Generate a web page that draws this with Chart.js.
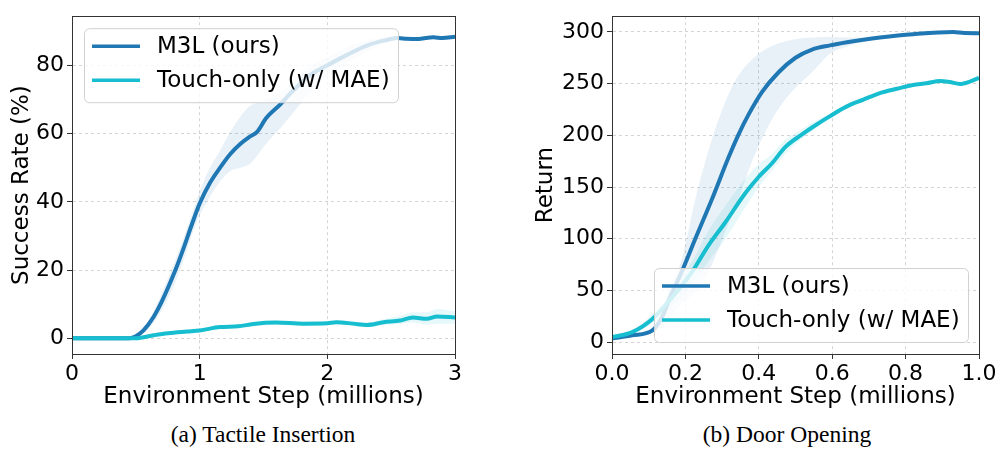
<!DOCTYPE html>
<html lang="en">
<head>
  <meta charset="UTF-8">
  <title>M3L vs Touch-only learning curves</title>
  <script src="https://cdn.jsdelivr.net/npm/chart.js"></script>
  <style>
    body {
      margin: 0;
      width: 1001px;
      height: 450px;
      background: #fff;
      position: relative;
      overflow: hidden;
    }
    canvas {
      position: absolute;
      top: 0;
    }
    #leftChart { left: 0; }
    #rightChart { left: 500px; }
    .caption {
      position: absolute;
      top: 421px;
      width: 300px;
      text-align: center;
      font-family: "Liberation Serif", serif;
      font-size: 23.5px;
      color: #000;
    }
  </style>
</head>
<body>

  <canvas id="leftChart" width="500" height="420"></canvas>
  <canvas id="rightChart" width="501" height="420"></canvas>
  <div class="caption" style="left:113px">(a) Tactile Insertion</div>
  <div class="caption" style="left:637px">(b) Door Opening</div>

  <script>
    const seriesNames = ['M3L (ours)', 'Touch-only (w/ MAE)'];

    // (a) Tactile Insertion, x in millions of steps, y in %
    const tiM3LSteps = [0, 0.2, 0.4, 0.45, 0.5, 0.56, 0.64, 0.7, 0.81, 0.87, 0.94, 1.0, 1.08, 1.16, 1.24, 1.32, 1.39, 1.45, 1.52, 1.63, 1.73, 1.86, 2.0, 2.15, 2.31, 2.45, 2.55, 2.62, 2.7, 2.77, 2.83, 2.9, 3.0];
    const tiM3L     = [0, 0, 0, 0, 0.6, 2.3, 6.3, 10.5, 20, 26, 33.5, 39.5, 45.5, 50, 54, 57, 59, 60.5, 64.5, 68.5, 72.5, 77, 80, 83, 85.8, 87.3, 88, 87.8, 87.7, 88, 88.2, 88, 88.4];
    const tiM3LLow  = [0, 0, 0, 0, 0.2, 1.5, 4.5, 8, 16.5, 22.5, 30.5, 36, 41.5, 46, 49, 50, 51, 53.5, 57, 61.5, 66, 72, 76.5, 80.5, 84, 86.5, 87.5, 87.5, 87.3, 87.6, 87.8, 87.6, 88];
    const tiM3LHigh = [0, 0, 0, 0, 1, 3.2, 8, 13, 23, 29, 36.5, 43, 50, 55, 60.5, 65, 68, 69, 70, 72, 75.5, 79.5, 82.5, 85.2, 87.3, 88.2, 88.5, 88.2, 88.1, 88.4, 88.6, 88.4, 88.8];

    const tiTouchSteps = [0, 0.3, 0.5, 0.64, 0.75, 0.9, 1.0, 1.16, 1.3, 1.42, 1.6, 1.81, 2.0, 2.07, 2.2, 2.31, 2.44, 2.57, 2.67, 2.78, 2.86, 3.0];
    const tiTouch     = [0, 0, 0, 0.9, 1.5, 2.0, 2.3, 3.3, 3.5, 4.2, 4.6, 4.3, 4.4, 4.7, 4.3, 3.9, 4.7, 5.2, 6.1, 5.7, 6.4, 6.1];
    const tiTouchLow  = [0, 0, 0, 0.6, 1.1, 1.5, 1.8, 2.8, 3.0, 3.6, 4.0, 3.7, 3.9, 4.1, 3.7, 3.2, 3.9, 4.2, 4.6, 4.0, 4.3, 4.3];
    const tiTouchHigh = [0, 0, 0, 1.2, 1.9, 2.5, 2.8, 3.8, 4.0, 4.8, 5.2, 4.9, 4.9, 5.3, 4.9, 4.6, 5.6, 6.6, 7.6, 7.6, 8.6, 7.9];

    const tiXTicks = [0, 1, 2, 3];
    const tiYTicks = [0, 20, 40, 60, 80];

    // (b) Door Opening, x in millions of steps, y = return
    const doM3LSteps = [0, 0.055, 0.11, 0.136, 0.16, 0.19, 0.227, 0.272, 0.318, 0.345, 0.372, 0.409, 0.454, 0.5, 0.545, 0.594, 0.64, 0.685, 0.73, 0.82, 0.93, 0.96, 1.0];
    const doM3L     = [3.5, 6.6, 11.4, 24, 45, 68, 100, 138, 179, 201, 220, 242, 261, 275, 283, 287, 290, 292.5, 294.6, 297.8, 300, 299, 298.8];
    const doM3LLow  = [2.5, 5, 9, 14, 24, 38, 48, 75, 115, 138, 166, 197, 226, 246, 261, 279, 286, 291, 293.7, 297, 299, 298, 298];
    const doM3LHigh = [4.5, 8, 14, 32, 55, 80, 138, 196, 240, 258, 270, 281, 289, 293, 294.6, 295, 294.5, 294.5, 295.5, 298.5, 301, 300, 299.5];

    const doTouchSteps = [0, 0.055, 0.11, 0.163, 0.218, 0.263, 0.309, 0.363, 0.4, 0.436, 0.472, 0.518, 0.545, 0.594, 0.64, 0.685, 0.73, 0.776, 0.82, 0.857, 0.894, 0.92, 0.948, 0.975, 1.0];
    const doTouch     = [5, 9.8, 22.5, 43, 68, 93.7, 116, 144, 160, 173, 188.6, 201, 207.6, 218.6, 228, 234.5, 240.9, 245, 248.7, 250.3, 252.5, 251.5, 249.7, 252, 255.7];
    const doTouchLow  = [4, 8, 18, 35, 56, 78, 100, 130, 150, 166, 182, 197, 204, 216, 226, 233, 239.5, 243.5, 247.5, 249, 251, 250, 248.5, 250.5, 254];
    const doTouchHigh = [6, 11.5, 27, 50, 78, 108, 132, 158, 172, 182, 196, 206, 212, 221, 230, 236, 242.5, 246.5, 250, 251.5, 254, 253, 251, 253.5, 257];

    const doXTicks = [0, 0.2, 0.4, 0.6, 0.8, 1.0];
    const doYTicks = [0, 50, 100, 150, 200, 250, 300];

    const BLUE = '#1f77b4';
    const CYAN = '#17becf';
    const FONT = '"DejaVu Sans", sans-serif';

    Chart.defaults.font.family = FONT;
    Chart.defaults.font.size = 23;
    Chart.defaults.color = '#000';

    function pts(xs, ys) {
      return xs.map((x, i) => ({ x: x, y: ys[i] }));
    }

    function line(label, color, xs, ys, order) {
      return {
        label: label, data: pts(xs, ys), borderColor: color, borderWidth: 4,
        pointRadius: 0, fill: false, cubicInterpolationMode: 'monotone', order: order
      };
    }

    function band(color, xs, ys, fill, order) {
      return {
        label: '', data: pts(xs, ys), borderWidth: 0, borderColor: 'transparent',
        backgroundColor: color, pointRadius: 0, fill: fill,
        cubicInterpolationMode: 'monotone', order: order
      };
    }

    // matplotlib-style legend box and full frame around the plot
    const boxLegend = {
      id: 'boxLegend',
      afterDatasetsDraw(chart, args, opts) {
        const { ctx, chartArea: a } = chart;
        const w = 314, h = 74;
        const x0 = opts.corner === 'tl' ? a.left + 12 : a.right - 11 - w;
        const y0 = opts.corner === 'tl' ? a.top + 12 : a.bottom - 12 - h;
        ctx.save();
        ctx.beginPath();
        ctx.roundRect(x0 + 0.5, y0 + 0.5, w, h, 5);
        ctx.fillStyle = 'rgba(255,255,255,0.8)';
        ctx.fill();
        ctx.strokeStyle = '#d0d0d0';
        ctx.lineWidth = 1;
        ctx.stroke();
        chart.data.datasets.slice(0, 2).forEach((ds, i) => {
          const y = y0 + 18 + i * 34;
          ctx.strokeStyle = ds.borderColor;
          ctx.lineWidth = 3.5;
          ctx.beginPath();
          ctx.moveTo(x0 + 8, y);
          ctx.lineTo(x0 + 56, y);
          ctx.stroke();
          ctx.fillStyle = '#000';
          ctx.font = '23px ' + FONT;
          ctx.textBaseline = 'middle';
          ctx.fillText(ds.label, x0 + 73, y + 1);
        });
        ctx.strokeStyle = '#333';
        ctx.lineWidth = 1;
        ctx.strokeRect(Math.round(a.left) + 0.5, Math.round(a.top) + 0.5,
                       Math.round(a.right - a.left), Math.round(a.bottom - a.top));
        ctx.restore();
      }
    };

    function makeChart(id, cfg) {
      const ctx = document.getElementById(id).getContext('2d');
      return new Chart(ctx, {
        type: 'line',
        data: { datasets: cfg.datasets },
        plugins: [boxLegend],
        options: {
          responsive: false,
          animation: false,
          devicePixelRatio: 1,
          layout: { padding: { top: 10, right: cfg.padRight, left: 0, bottom: 0 } },
          plugins: {
            legend: { display: false },
            tooltip: { enabled: false },
            boxLegend: { corner: cfg.corner }
          },
          scales: {
            x: {
              type: 'linear',
              min: cfg.xMin, max: cfg.xMax,
              afterBuildTicks: s => { s.ticks = cfg.xTicks.map(v => ({ value: v })); },
              afterFit: s => { s.height = 66; },
              ticks: {
                padding: 2, maxRotation: 0, autoSkip: false,
                font: { size: 22 },
                callback: v => cfg.xFmt(v)
              },
              grid: { color: '#d4d4d4', tickColor: '#333', tickLength: 5, lineWidth: 1 },
              border: { color: '#333', dash: [3, 3] },
              title: { display: true, text: 'Environment Step (millions)', padding: { top: 0, bottom: 9 } }
            },
            y: {
              min: cfg.yMin, max: cfg.yMax,
              afterBuildTicks: s => { s.ticks = cfg.yTicks.map(v => ({ value: v })); },
              afterFit: s => { s.width = cfg.yWidth; },
              ticks: { padding: 3, font: { size: 22 }, callback: v => String(v) },
              grid: { color: '#d4d4d4', tickColor: '#333', tickLength: 5, lineWidth: 1 },
              border: { color: '#333', dash: [3, 3] },
              title: { display: true, text: cfg.yTitle, padding: { top: cfg.yTitlePad, bottom: 0 } }
            }
          }
        }
      });
    }

    makeChart('leftChart', {
      datasets: [
        line(seriesNames[0], BLUE, tiM3LSteps, tiM3L, 1),
        line(seriesNames[1], CYAN, tiTouchSteps, tiTouch, 0),
        band('rgba(31,119,180,0.1)', tiM3LSteps, tiM3LHigh, '+1', 4),
        band('transparent', tiM3LSteps, tiM3LLow, false, 5),
        band('rgba(23,190,207,0.1)', tiTouchSteps, tiTouchHigh, '+1', 2),
        band('transparent', tiTouchSteps, tiTouchLow, false, 3)
      ],
      corner: 'tl', padRight: 45, yWidth: 72,
      xMin: 0, xMax: 3, xTicks: tiXTicks, xFmt: v => String(v),
      yMin: -4.6, yMax: 94.4, yTicks: tiYTicks,
      yTitle: 'Success Rate (%)', yTitlePad: 8
    });

    makeChart('rightChart', {
      datasets: [
        line(seriesNames[0], BLUE, doM3LSteps, doM3L, 1),
        line(seriesNames[1], CYAN, doTouchSteps, doTouch, 0),
        band('rgba(31,119,180,0.1)', doM3LSteps, doM3LHigh, '+1', 4),
        band('transparent', doM3LSteps, doM3LLow, false, 5),
        band('rgba(23,190,207,0.1)', doTouchSteps, doTouchHigh, '+1', 2),
        band('transparent', doTouchSteps, doTouchLow, false, 3)
      ],
      corner: 'br', padRight: 22, yWidth: 112,
      xMin: 0, xMax: 1, xTicks: doXTicks, xFmt: v => v.toFixed(1),
      yMin: -11.4, yMax: 315.2, yTicks: doYTicks,
      yTitle: 'Return', yTitlePad: 32
    });
  </script>

</body>
</html>
